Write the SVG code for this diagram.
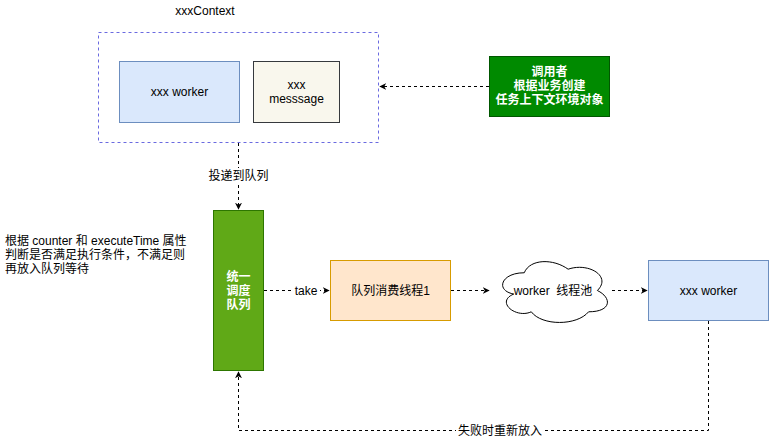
<svg xmlns="http://www.w3.org/2000/svg" width="770" height="439" viewBox="0 0 770 439">
<defs>
<marker id="arr" viewBox="0 0 10 10" refX="9" refY="5" markerWidth="7" markerHeight="7" markerUnits="userSpaceOnUse" orient="auto">
<path d="M0,0 L10,5 L0,10 L3,5 Z" fill="#000"/>
</marker>
<style>
text{font-family:"Liberation Sans","Noto Sans CJK SC",sans-serif;font-size:12px;fill:#000}
.c{text-anchor:middle}
.w{fill:#fff;font-weight:bold}
.e{fill:none;stroke:#000;stroke-dasharray:3 3;stroke-width:1}
.lb{fill:#fff}
</style>
</defs>
<rect width="770" height="439" fill="#fff"/>
<g id="context">
<text x="205" y="15" class="c">xxxContext</text>
<rect x="98.5" y="32.5" width="280" height="110" fill="none" stroke="#6a6ae0" stroke-dasharray="3 3"/>
</g>
<g id="worker1">
<rect x="119.5" y="61.5" width="120" height="61" fill="#dae8fc" stroke="#6c8ebf"/>
<text x="179.5" y="96" class="c">xxx worker</text>
</g>
<g id="message">
<rect x="253.5" y="61.5" width="86" height="61" fill="#f9f7ed" stroke="#36393d"/>
<text x="296.5" y="89" class="c">xxx</text>
<text x="296.5" y="103" class="c">messsage</text>
</g>
<g id="caller">
<rect x="489.5" y="56.5" width="120" height="60" fill="#008a00" stroke="#005700"/>
<text x="549.5" y="76" class="c w">调用者</text>
<text x="549.5" y="90" class="c w">根据业务创建</text>
<text x="549.5" y="104" class="c w">任务上下文环境对象</text>
</g>
<g id="note">
<text x="5" y="245">根据 counter 和 executeTime 属性</text>
<text x="5" y="259">判断是否满足执行条件，不满足则</text>
<text x="5" y="273">再放入队列等待</text>
</g>
<g id="queue">
<rect x="213.5" y="210.5" width="50" height="160" fill="#60a917" stroke="#2d7600"/>
<text x="238.5" y="281" class="c w">统一</text>
<text x="238.5" y="295" class="c w">调度</text>
<text x="238.5" y="309" class="c w">队列</text>
</g>
<g id="consumer">
<rect x="330.5" y="260.5" width="120" height="60" fill="#ffe6cc" stroke="#d79b00"/>
<text x="390.5" y="295" class="c">队列消费线程1</text>
</g>
<g id="pool">
<path d="M524.25,272.75 C500.85,272.75 495,290.5 513.72,294.05 C495,301.86 516.06,318.9 531.27,311.8 C541.8,326 576.9,326 588.6,311.8 C612,311.8 612,297.6 597.375,290.5 C612,276.3 588.6,262.1 568.125,269.2 C553.5,258.55 530.1,258.55 524.25,272.75 Z" fill="#fff" stroke="#000"/>
<text x="553" y="295" class="c">worker&#160; 线程池</text>
</g>
<g id="worker2">
<rect x="648.5" y="260.5" width="120" height="60" fill="#dae8fc" stroke="#6c8ebf"/>
<text x="708.5" y="295" class="c">xxx worker</text>
</g>
<g id="connectors">
<path class="e" d="M489,86.5 L380,86.5" marker-end="url(#arr)"/>
<path class="e" d="M238.5,143 L238.5,209" marker-end="url(#arr)"/>
<rect x="206" y="168" width="64" height="15" class="lb"/>
<text x="238.5" y="180" class="c">投递到队列</text>
<path class="e" d="M264,290.5 L329,290.5" marker-end="url(#arr)"/>
<rect x="292" y="284" width="28" height="14" class="lb"/>
<text x="306" y="295" class="c">take</text>
<path class="e" d="M451,290.5 L489,290.5" marker-end="url(#arr)"/>
<path class="e" d="M612,290.5 L647,290.5" marker-end="url(#arr)"/>
<path class="e" d="M708.5,321 L708.5,430.5 L238.5,430.5 L238.5,372" marker-end="url(#arr)"/>
<rect x="456" y="423" width="88" height="15" class="lb"/>
<text x="500" y="435" class="c">失败时重新放入</text>
</g>
</svg>
